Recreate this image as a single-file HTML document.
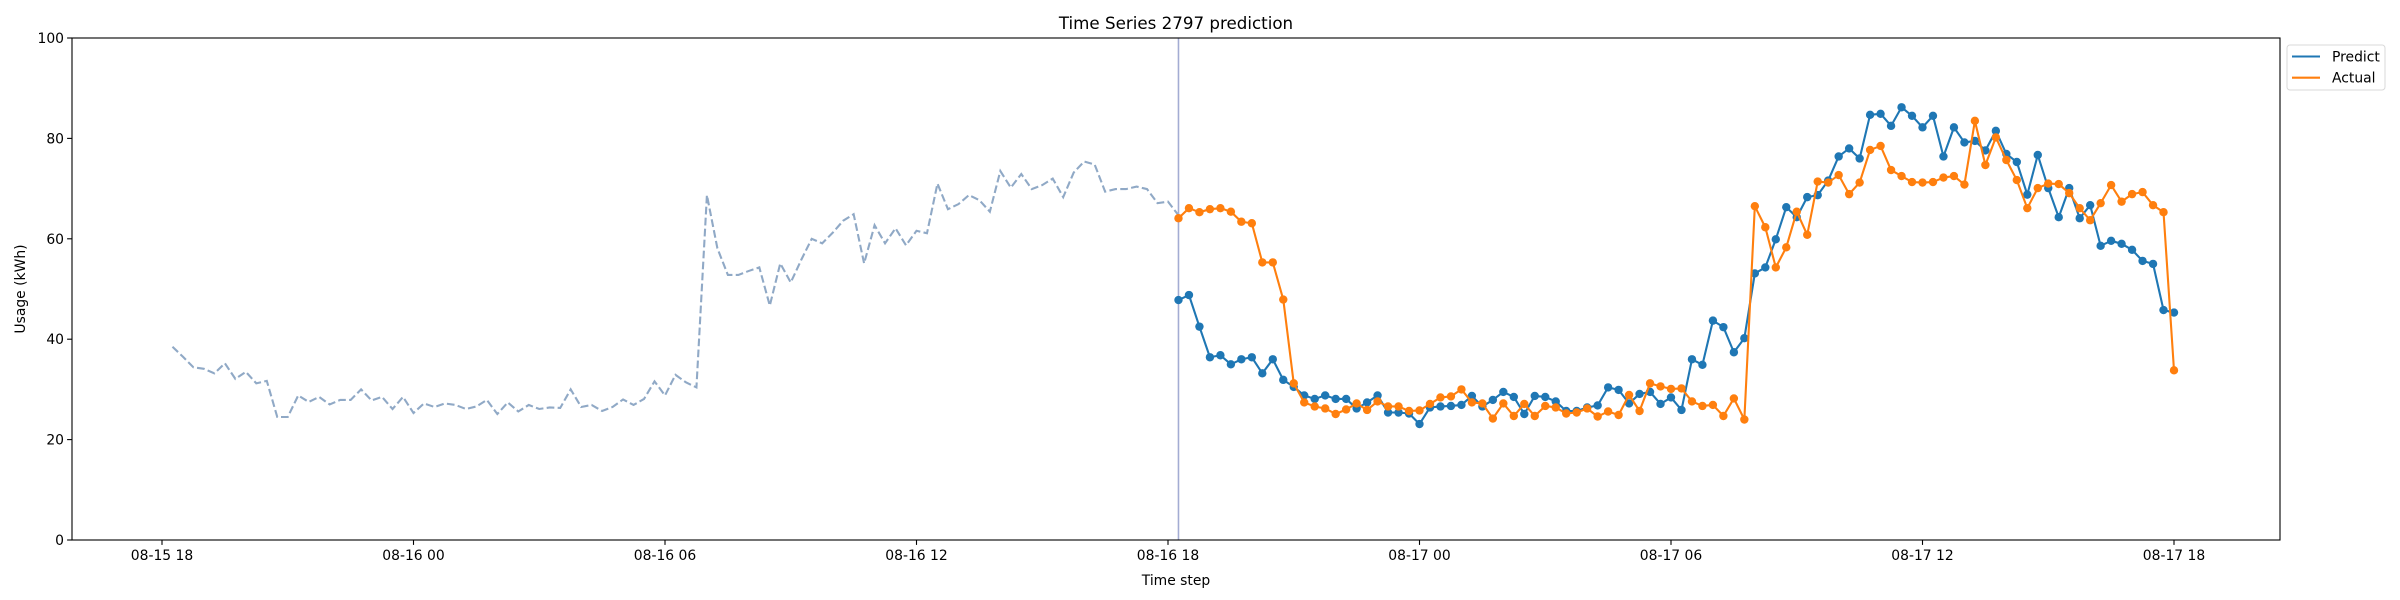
<!DOCTYPE html>
<html><head><meta charset="utf-8"><style>
html,body{margin:0;padding:0;background:#fff;}
svg{display:block;font-family:"DejaVu Sans","Liberation Sans",sans-serif;}
</style></head>
<body>
<svg id="chart" width="2400" height="600" viewBox="0 0 2400 600" xmlns="http://www.w3.org/2000/svg">
<rect x="0" y="0" width="2400" height="600" fill="#fff"/>
<text x="1176" y="29" font-size="16.7" text-anchor="middle" fill="#000">Time Series 2797 prediction</text>
<g id="marks"></g>
<g id="axes"></g>
<text x="1176" y="585" font-size="13.9" text-anchor="middle" fill="#000">Time step</text>
<text x="0" y="0" font-size="13.9" text-anchor="middle" fill="#000" transform="translate(25,289) rotate(-90)">Usage (kWh)</text>
<g>
<rect x="2287" y="45" width="98" height="45" rx="3" fill="#fff" stroke="#d9d9d9" stroke-width="1"/>
<line x1="2292" y1="56.5" x2="2320" y2="56.5" stroke="#1f77b4" stroke-width="2.1"/>
<text x="2332" y="61.5" font-size="13.9" fill="#000">Predict</text>
<line x1="2292" y1="77.7" x2="2320" y2="77.7" stroke="#ff7f0e" stroke-width="2.1"/>
<text x="2332" y="82.7" font-size="13.9" fill="#000">Actual</text>
</g>
</svg>
<script>
const historyValues = [38.5,36.5,34.4,34.1,33.2,35.2,32.1,33.5,31.2,31.7,24.5,24.5,28.8,27.5,28.5,27.0,27.9,27.9,30.0,27.8,28.5,26.1,28.5,25.3,27.2,26.5,27.2,26.9,26.1,26.6,27.9,25.1,27.4,25.6,26.9,26.1,26.4,26.3,30.0,26.5,26.9,25.7,26.5,28.0,26.9,28.1,31.6,28.8,32.9,31.4,30.4,68.7,58.1,52.8,52.8,53.6,54.3,46.7,55.1,51.3,55.8,60.0,59.1,61.2,63.6,64.9,55.1,62.7,59.1,62.1,58.7,61.6,61.1,71.0,65.9,66.9,68.7,67.7,65.4,73.5,70.2,72.9,69.9,70.7,72.0,68.3,73.2,75.4,74.8,69.4,69.9,69.9,70.4,69.9,67.1,67.4,64.7];
const predictValues = [47.8,48.8,42.5,36.4,36.8,35.0,36.0,36.4,33.2,36.0,31.9,30.5,28.8,28.1,28.8,28.1,28.1,26.2,27.4,28.8,25.4,25.4,25.2,23.1,26.4,26.6,26.7,26.9,28.7,26.6,27.9,29.5,28.5,25.1,28.7,28.5,27.6,25.7,25.7,26.4,26.8,30.4,29.9,27.2,29.1,29.5,27.1,28.4,25.9,36.0,34.9,43.7,42.4,37.4,40.2,53.1,54.3,59.9,66.3,64.3,68.3,68.7,71.6,76.4,78.0,76.0,84.7,84.9,82.5,86.2,84.5,82.2,84.5,76.4,82.2,79.2,79.5,77.6,81.5,76.9,75.3,68.8,76.7,70.1,64.3,70.1,64.1,66.7,58.6,59.6,59.0,57.8,55.6,55.0,45.8,45.3];
const actualValues = [64.1,66.1,65.3,65.9,66.1,65.4,63.4,63.1,55.3,55.3,47.9,31.2,27.4,26.6,26.2,25.1,26.0,27.2,25.9,27.6,26.6,26.6,25.7,25.8,27.1,28.4,28.6,30.0,27.4,27.2,24.2,27.2,24.7,27.1,24.7,26.7,26.4,25.2,25.4,26.2,24.6,25.6,24.9,28.9,25.7,31.2,30.6,30.1,30.2,27.6,26.7,26.9,24.7,28.2,24.0,66.5,62.3,54.3,58.3,65.4,60.8,71.4,71.2,72.7,68.9,71.2,77.7,78.5,73.7,72.5,71.3,71.2,71.3,72.2,72.5,70.8,83.5,74.7,80.2,75.7,71.7,66.1,70.1,71.0,70.9,69.1,66.1,63.7,67.1,70.7,67.4,68.9,69.3,66.7,65.3,33.8];
const xTickLabels = ["08-15 18","08-16 00","08-16 06","08-16 12","08-16 18","08-17 00","08-17 06","08-17 12","08-17 18"];
const yTickValues = [0,20,40,60,80,100];

const NS="http://www.w3.org/2000/svg";
const L=72, R=2280, T=38, B=540;
// time in quarter-hours since 08-15 18:00
const x = q => 162 + q*(251.5/24);
const y = v => B - (v/100)*(B-T);
const historyStart = 1, forecastStart = 97;
function mk(tag, attrs, parent){const e=document.createElementNS(NS,tag);for(const k in attrs)e.setAttribute(k,attrs[k]);parent.appendChild(e);return e;}
const marks=document.getElementById('marks'), axes=document.getElementById('axes');

// history dashed
let d = historyValues.map((v,i)=>(i?'L':'M')+x(historyStart+i).toFixed(2)+' '+y(v).toFixed(2)).join(' ');
const hist = mk('path',{d:d,fill:'none',stroke:'#90a9c6','stroke-width':2.1,'stroke-dasharray':'7.7 3.3'},marks);



// vertical line
const vl = mk('line',{x1:x(forecastStart),x2:x(forecastStart),y1:T,y2:B,stroke:'#a3acd3','stroke-width':1.6},marks);



function series(vals,color,name){
  const g=mk('g',{},marks);
  
  
  const dd=vals.map((v,i)=>(i?'L':'M')+x(forecastStart+i).toFixed(2)+' '+y(v).toFixed(2)).join(' ');
  const p=mk('path',{d:dd,fill:'none',stroke:color,'stroke-width':2.1,'stroke-linejoin':'round'},g);
  
  
  vals.forEach((v,i)=>{
    const c=mk('circle',{cx:x(forecastStart+i).toFixed(2),cy:y(v).toFixed(2),r:4.2,fill:color},g);
    
    
  });
}
series(predictValues,'#1f77b4','predict');
series(actualValues,'#ff7f0e','actual');

// axes frame
const fr = mk('rect',{x:L,y:T,width:R-L,height:B-T,fill:'none',stroke:'#000','stroke-width':1.1},axes);


yTickValues.forEach(v=>{
  const t=mk('line',{x1:L-4.9,x2:L,y1:y(v),y2:y(v),stroke:'#000','stroke-width':1.1},axes);
  
  
  const tx=mk('text',{x:L-8,y:y(v)+5,'font-size':13.9,'text-anchor':'end',fill:'#000'},axes);
  tx.textContent=v;
  
  
});
xTickLabels.forEach((lab,i)=>{
  const xx=x(i*24);
  const t=mk('line',{x1:xx,x2:xx,y1:B,y2:B+4.9,stroke:'#000','stroke-width':1.1},axes);
  
  
  const tx=mk('text',{x:xx,y:B+20,'font-size':13.9,'text-anchor':'middle',fill:'#000'},axes);
  tx.textContent=lab;
  
  
});
</script>
</body></html>
